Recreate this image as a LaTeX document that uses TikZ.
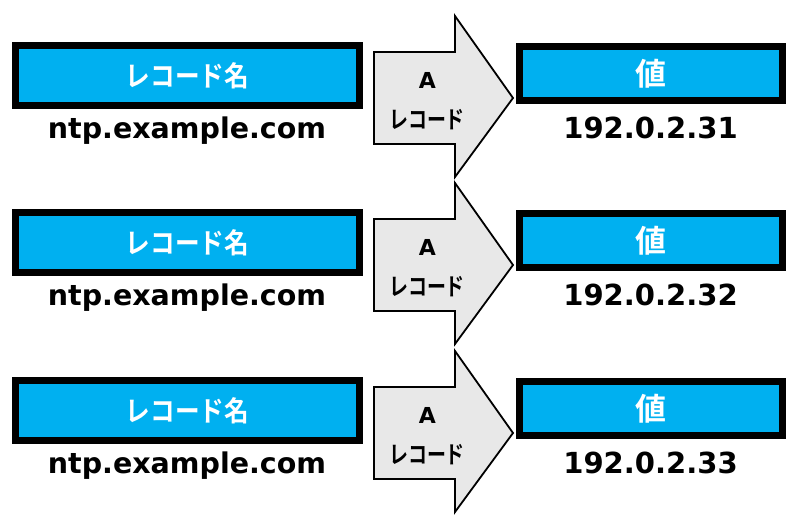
\documentclass[tikz,border=0pt]{standalone}
\usepackage{graphicx}
\usepackage{fontspec}
\setmainfont{DejaVu Sans}
\newfontfamily\jpb{Noto Sans CJK JP Bold}
\definecolor{boxblue}{HTML}{00B0F0}
\definecolor{arrowgray}{HTML}{E8E8E8}
\begin{document}
\begin{tikzpicture}[x=1pt,y=-1pt,
  namebox/.style={draw=black,line width=7pt,fill=boxblue,inner sep=0pt,
    minimum width=344pt,minimum height=59.7pt,text=white,font=\jpb\fontsize{28}{30}\selectfont},
  valbox/.style={draw=black,line width=7pt,fill=boxblue,inner sep=0pt,
    minimum width=263pt,minimum height=54pt,text=white,font=\jpb\fontsize{31}{33}\selectfont},
  fatarrow/.style={draw=black,line width=1.8pt,fill=arrowgray,line join=miter},
  domtext/.style={font=\bfseries\fontsize{28.5}{32}\selectfont,inner sep=0pt},
  iptext/.style={font=\bfseries\fontsize{29}{32}\selectfont,inner sep=0pt},
  atext/.style={font=\bfseries\fontsize{22}{26}\selectfont,inner sep=0pt},
  rtext/.style={font=\jpb\fontsize{24}{26}\selectfont,inner sep=0pt}]
\useasboundingbox (0,0) rectangle (799,521);
\foreach \i/\dy/\ip in {1/0/192.0.2.31, 2/167/192.0.2.32, 3/335/192.0.2.33}{
  \begin{scope}[yshift=-\dy pt]
    \node[namebox] (name\i) at (187.5,75.4) {\scalebox{0.88}[1]{レコード名}};
    \node[domtext] (dom\i) at (187,131) {ntp.example.com};
    \path[fatarrow] (374,52) -- (455,52) -- (455,16) -- (513,98) -- (455,177) -- (455,144) -- (374,144) -- cycle;
    \node[atext] (a\i) at (427.5,80) {A};
    \node[rtext] (rec\i) at (427,120) {\scalebox{0.79}[1]{レコード}};
    \node[valbox] (val\i) at (651,73.5) {値};
    \node[iptext] (ip\i) at (650.5,128) {\ip};
  \end{scope}
}
\end{tikzpicture}
\end{document}
